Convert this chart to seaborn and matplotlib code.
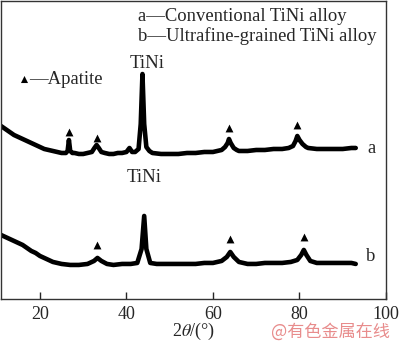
import matplotlib
matplotlib.use("Agg")
import matplotlib.pyplot as plt
import seaborn as sns
import pandas as pd

# XRD traces (2theta in degrees, intensity in arbitrary units)
two_theta_a = [11, 12, 13, 14, 15, 16, 17, 18, 19, 20, 21, 22, 23, 24, 25, 26, 26.4, 26.7, 27.0, 27.5,
               28, 29, 30, 31, 32, 32.6, 33.1, 33.6, 34.2, 35, 36, 37, 38, 39, 40, 40.7, 41.3, 42, 42.8, 43.3,
               43.7, 44.1, 44.6, 45.3, 46, 48, 50, 52, 54, 56, 58, 60, 61, 62, 62.8, 63.4, 63.7, 64.1, 64.8, 65.5,
               66, 68, 70, 72, 74, 76, 77.5, 78.5, 79.1, 79.5, 80.0, 80.7, 81.5, 82, 84, 86, 88, 90, 92, 93]
intensity_a = [173, 170, 167, 164, 162, 160, 158, 156, 154, 152, 150, 149, 148, 147, 146, 146, 148, 159, 148, 146,
               146, 145, 145, 146, 147, 151, 154, 151, 147, 146, 145, 145, 146, 146, 147, 151, 147, 147, 150, 175,
               225, 175, 152, 148, 146, 145, 145, 145, 146, 146, 147, 147, 148, 149, 152, 156, 160, 156, 151, 149,
               148, 148, 149, 149, 150, 150, 151, 153, 158, 163, 159, 155, 152, 151, 150, 150, 150, 150, 151, 151]

two_theta_b = [11, 12, 13, 14, 15, 16, 17, 18, 19, 20, 21, 22, 23, 24, 25, 27, 29, 31, 32.5, 33.3,
               34.2, 35.5, 37, 39, 41, 42.5, 43.5, 44.1, 44.6, 45.5, 47, 50, 53, 56, 58, 60, 62, 63.2, 64.0, 64.8,
               66, 68, 70, 72, 74, 76, 78, 79.5, 80.4, 81.0, 81.6, 82.5, 84, 86, 88, 90, 92, 93]
intensity_b = [64, 62, 60, 58, 56, 54, 51, 48, 46, 43, 41, 39, 37, 36, 35, 34, 34, 35, 38, 41,
               38, 35, 34, 35, 35, 36, 50, 83, 50, 36, 35, 35, 35, 35, 36, 36, 38, 42, 47, 42,
               37, 35, 35, 36, 36, 36, 37, 39, 44, 49, 44, 38, 36, 36, 36, 36, 36, 35]

# apatite peak markers
apatite_x = [26.7, 33.1, 63.7, 79.5, 33.3, 64.0, 81.0]
apatite_y = [167, 161, 171, 174, 54, 60, 62]

df_a = pd.DataFrame({"two_theta": two_theta_a, "intensity": intensity_a})
df_b = pd.DataFrame({"two_theta": two_theta_b, "intensity": intensity_b})
df_tri = pd.DataFrame({"x": apatite_x, "y": apatite_y})

sns.set_style("ticks")
plt.rcParams["font.family"] = ["Liberation Serif", "DejaVu Serif"]
plt.rcParams["mathtext.fontset"] = "stix"

fig = plt.figure(figsize=(4.0, 3.44), dpi=100)
ax = fig.add_axes([0.0025, 0.131, 0.9625, 0.866])

# thick trace to stand in for the noisy band of the scan
for d in (df_a, df_b):
    sns.lineplot(data=d, x="two_theta", y="intensity", sort=False, estimator=None,
                 color="black", lw=3.3, ax=ax)

sns.scatterplot(data=df_tri, x="x", y="y", marker="^", s=32, color="black",
                edgecolor="black", linewidth=0, ax=ax)

fs = 13.4
ax.text(42.7, 283, "a\u2014Conventional TiNi alloy", fontsize=fs, va="center", ha="left")
ax.text(42.7, 263, "b\u2014Ultrafine-grained TiNi alloy", fontsize=fs, va="center", ha="left")
ax.scatter([16.3], [220], marker="^", s=26, color="black", linewidth=0)
ax.text(17.4, 220, "\u2014Apatite", fontsize=fs, va="center", ha="left")
ax.text(44.8, 236, "TiNi", fontsize=13.5, va="center", ha="center")
ax.text(44.1, 121, "TiNi", fontsize=13.5, va="center", ha="center")
ax.text(96.6, 150, "a", fontsize=fs, va="center", ha="center")
ax.text(96.4, 42, "b", fontsize=fs, va="center", ha="center")

ax.set_xlim(11, 100)
ax.set_ylim(0, 298)
ax.set_xticks([20, 40, 60, 80, 100])
ax.set_yticks([])
ax.tick_params(axis="x", direction="in", length=5, width=1, pad=5, labelsize=13)
ax.set_xlabel(r"2$\theta$/(°)", fontsize=13)
ax.xaxis.set_label_coords(0.5, -0.075)
ax.set_ylabel("")
for sp in ax.spines.values():
    sp.set_visible(True)
    sp.set_color("#333333")
    sp.set_linewidth(1)

fig.text(0.975, 0.036, "@有色金属在线", fontsize=12.3, color="#e88c8c",
         ha="right", va="center", family=["Noto Sans CJK SC", "DejaVu Sans"])

fig.savefig("out.png", dpi=100)
